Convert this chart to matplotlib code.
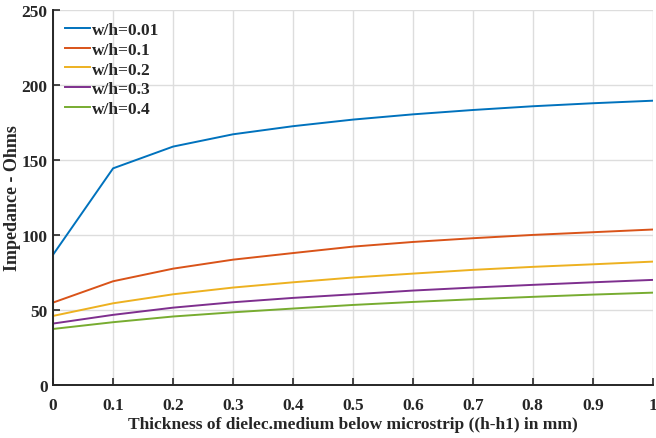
import numpy as np
import matplotlib
matplotlib.use("Agg")
import matplotlib.pyplot as plt

# thickness of dielectric below microstrip, mm
thickness = [0, 0.1, 0.2, 0.3, 0.4, 0.5, 0.6, 0.7, 0.8, 0.9, 1.0]

# impedance (Ohms)
z_001 = [86.9, 144.4, 158.9, 167.1, 172.5, 176.9, 180.4, 183.3, 185.8, 187.8, 189.5]
z_01 = [54.9, 69.1, 77.5, 83.5, 87.9, 92.2, 95.3, 97.8, 100.0, 101.8, 103.6]
z_02 = [46.0, 54.4, 60.4, 64.9, 68.4, 71.6, 74.2, 76.7, 78.7, 80.4, 82.2]
z_03 = [40.9, 46.7, 51.5, 55.1, 58.0, 60.4, 62.9, 64.9, 66.7, 68.4, 70.0]
z_04 = [37.3, 41.8, 45.6, 48.4, 50.9, 53.3, 55.3, 57.1, 58.7, 60.2, 61.5]

labels = ["w/h=0.01", "w/h=0.1", "w/h=0.2", "w/h=0.3", "w/h=0.4"]
colors = ["#0072BD", "#D95319", "#EDB120", "#7E2F8E", "#77AC30"]

plt.rcParams['font.family'] = ['Liberation Serif', 'DejaVu Serif']
plt.rcParams['font.weight'] = 'bold'
fs = 12.5

fig = plt.figure(figsize=(6.56, 4.39), dpi=100)
ax = fig.add_axes([0.081, 0.121, 0.914, 0.854])

for ys, lab, c in zip([z_001, z_01, z_02, z_03, z_04], labels, colors):
	ax.plot(thickness, ys, color=c, linewidth=1.4, label=lab)

ax.set_xlim(0, 1)
ax.set_ylim(0, 250)
ax.set_xticks(np.arange(0, 1.01, 0.1))
ax.set_xticklabels(["0", "0.1", "0.2", "0.3", "0.4", "0.5", "0.6", "0.7", "0.8", "0.9", "1"])
ax.set_yticks([0, 50, 100, 150, 200, 250])
ax.grid(True, color="#dddddd", linewidth=1.0)
ax.set_axisbelow(True)

for s in ["top", "right"]:
	ax.spines[s].set_visible(False)
for s in ["left", "bottom"]:
	ax.spines[s].set_color("#262626")
	ax.spines[s].set_linewidth(1.4)

ax.tick_params(direction="in", length=5, width=1.2, colors="#262626", labelsize=fs)
ax.tick_params(axis="x", pad=9)
ax.tick_params(axis="y", pad=4)
for t in ax.get_xticklabels() + ax.get_yticklabels():
	t.set_fontweight("bold")

ax.set_xlabel("Thickness of dielec.medium below microstrip ((h-h1) in mm)", fontsize=fs, fontweight="bold", color="#262626", labelpad=2)
ax.set_ylabel("Impedance - Ohms", fontsize=13, fontweight="bold", color="#262626")
ax.yaxis.set_label_coords(-0.054, 0.5)

leg = ax.legend(loc="upper left", frameon=False, fontsize=fs, handlelength=1.4, handletextpad=0.15,
	labelspacing=0.2, borderaxespad=0.4, borderpad=0.3)
for t in leg.get_texts():
	t.set_fontweight("bold")
	t.set_color("#262626")

fig.savefig("out.png", dpi=100)
